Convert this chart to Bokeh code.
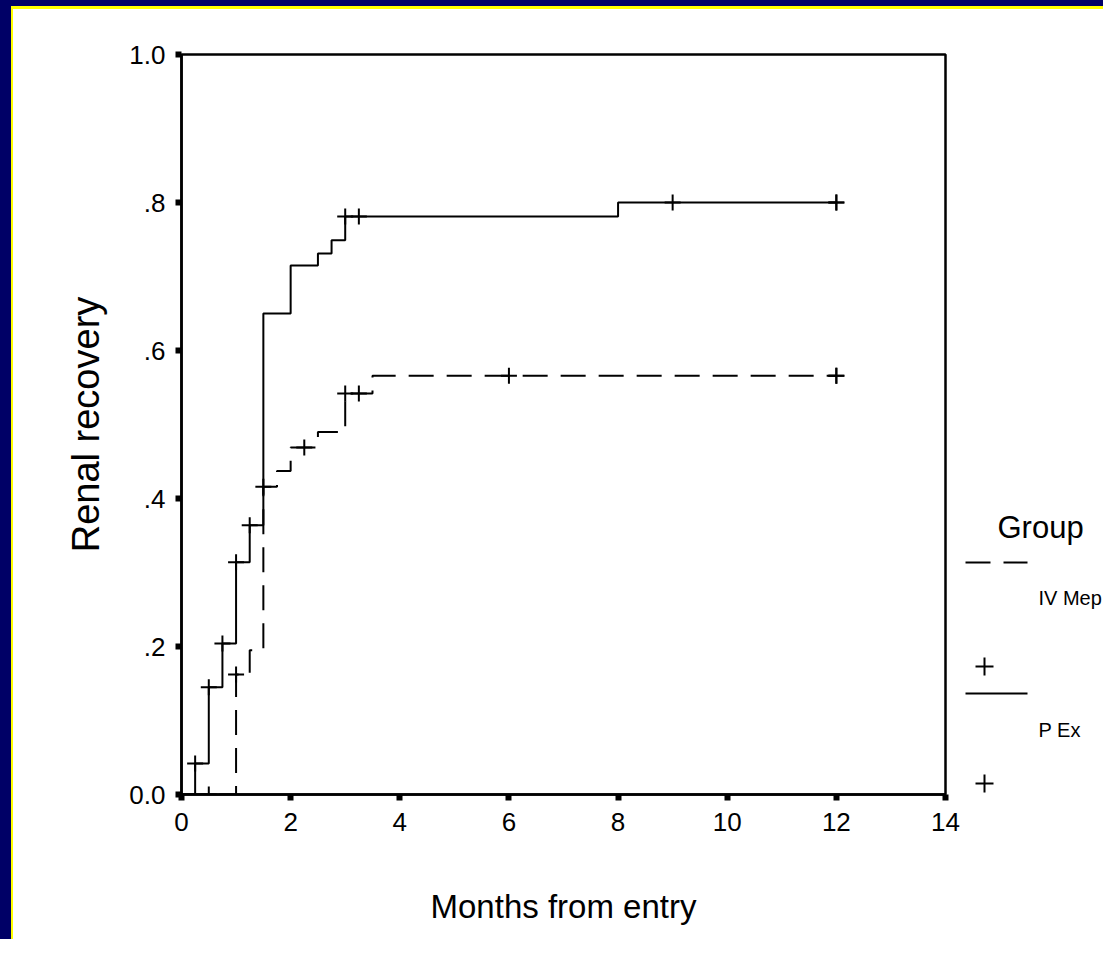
import numpy as np
from bokeh.plotting import figure
from bokeh.layouts import row
from bokeh.models import FixedTicker, Range1d
from bokeh.core.properties import value
from bokeh.embed import file_html
from bokeh.resources import INLINE

# ---- data ----
x_ticks = [0, 2, 4, 6, 8, 10, 12, 14]
y_ticks = [0.0, 0.2, 0.4, 0.6, 0.8, 1.0]
y_tick_labels = ["0.0", ".2", ".4", ".6", ".8", "1.0"]

# PEx (solid)
pex_t = [0, 0.25, 0.5, 0.75, 1.0, 1.25, 1.5, 2.0, 2.5, 2.75, 3.0, 8.0, 12.0]
pex_y = [0, 0.042, 0.145, 0.204, 0.314, 0.364, 0.65, 0.715, 0.731, 0.749, 0.781, 0.80, 0.80]
pex_censor = [0.25, 0.5, 0.75, 1.0, 1.25, 3.0, 3.25, 9.0, 12.0, 12.0]

# IV Mep (dashed)
ivm_t = [0, 1.0, 1.25, 1.5, 1.75, 2.0, 2.5, 3.0, 3.5, 12.0]
ivm_y = [0, 0.162, 0.195, 0.416, 0.437, 0.469, 0.49, 0.542, 0.566, 0.566]
ivm_censor = [0.5, 1.0, 1.5, 2.25, 3.0, 3.25, 6.0, 12.0, 12.0]

group_title = "Group"
group_names = ["IV Mep", "P Ex"]

FONT = "Liberation Sans"
NAVY = "#000066"
YELLOW = "#ffff00"

# page layout (pixels)
BORDER_L, BORDER_T = 11, 6          # navy slide border
YEL_L, YEL_T = 2, 3                 # yellow inner line
ORIGIN_X, ORIGIN_Y = BORDER_L + YEL_L, BORDER_T + YEL_T
FRAME_L, FRAME_R, FRAME_T, FRAME_B = 181, 945, 54, 794
MAIN_RIGHT = 960
TOTAL_W, TOTAL_H = 1103, 939
FIG_H = TOTAL_H - ORIGIN_Y
MAIN_W = MAIN_RIGHT - ORIGIN_X
LEG_W = TOTAL_W - MAIN_RIGHT
MB_TOP = FRAME_T - ORIGIN_Y
MB_BOTTOM = FIG_H - (FRAME_B - ORIGIN_Y)


def level_at(ts, ys, c):
    idx = np.searchsorted(np.asarray(ts), np.asarray(c), side="right") - 1
    return list(np.asarray(ys)[idx])


p = figure(width=MAIN_W, height=FIG_H, output_backend="svg", toolbar_location=None,
           x_range=Range1d(0, x_ticks[-1]), y_range=Range1d(0, y_ticks[-1]),
           min_border_left=FRAME_L - ORIGIN_X, min_border_right=MAIN_RIGHT - FRAME_R,
           min_border_top=MB_TOP, min_border_bottom=MB_BOTTOM,
           title_location=None)
p.background_fill_color = "white"
p.border_fill_color = "white"
p.outline_line_color = "black"
p.outline_line_width = 2.5
p.outline_line_alpha = 1.0
p.xgrid.visible = False
p.ygrid.visible = False

for ax in (p.xaxis[0], p.yaxis[0]):
    ax.axis_line_width = 2.5
    ax.axis_line_color = "black"
    ax.major_tick_line_width = 6
    ax.major_tick_line_color = "black"
    ax.major_tick_out = 6
    ax.major_tick_in = 0
    ax.minor_tick_line_color = None
    ax.major_label_text_font = FONT
    ax.major_label_text_font_size = "26px"
    ax.major_label_text_color = "black"
    ax.axis_label_text_font = FONT
    ax.axis_label_text_font_style = "normal"
    ax.axis_label_text_color = "black"

p.xaxis.ticker = FixedTicker(ticks=x_ticks)
p.yaxis.ticker = FixedTicker(ticks=y_ticks)
p.yaxis.major_label_overrides = {t: l for t, l in zip(y_ticks, y_tick_labels)}
p.xaxis.major_label_standoff = 12
p.yaxis.major_label_standoff = 10
p.xaxis.axis_label = "Months from entry"
p.yaxis.axis_label = "Renal recovery"
p.xaxis.axis_label_text_font_size = "33px"
p.yaxis.axis_label_text_font_size = "38px"
p.xaxis.axis_label_standoff = 54
p.yaxis.axis_label_standoff = 19

# curves
p.step(pex_t, pex_y, mode="after", line_color="black", line_width=2)
p.step(ivm_t, ivm_y, mode="after", line_color="black", line_width=2, line_dash="25 13")

# censor marks
p.scatter(pex_censor, level_at(pex_t, pex_y, pex_censor), marker="cross", size=16,
          line_color="black", line_width=2)
p.scatter(ivm_censor, level_at(ivm_t, ivm_y, ivm_censor), marker="cross", size=16,
          line_color="black", line_width=2)

# legend panel (separate figure sharing the y scale)
leg = figure(width=LEG_W, height=FIG_H, output_backend="svg", toolbar_location=None,
             x_range=Range1d(0, LEG_W), y_range=p.y_range,
             x_axis_location=None, y_axis_location=None, title_location=None,
             min_border_left=0, min_border_right=0,
             min_border_top=MB_TOP, min_border_bottom=MB_BOTTOM)
leg.outline_line_color = None
leg.background_fill_color = "white"
leg.border_fill_color = "white"
leg.grid.visible = False

leg.text(x=[37], y=[0.3608], text=[group_title], text_font=value(FONT),
         text_font_size="31px", text_color="black", text_baseline="alphabetic")
leg.line(x=[5, 67], y=[0.3135, 0.3135], line_color="black", line_width=2,
         line_dash="25 13")
leg.line(x=[5, 67], y=[0.1365, 0.1365], line_color="black", line_width=2)
leg.text(x=[78, 78], y=[0.2662, 0.0878], text=group_names, text_font=value(FONT),
         text_font_size="20px", text_color="black", text_baseline="alphabetic")
leg.scatter(x=[24, 24], y=[0.173, 0.0149], marker="cross", size=18,
            line_color="black", line_width=2)

layout = row(p, leg, styles={
    "border-left": f"{BORDER_L}px solid {NAVY}",
    "border-top": f"{BORDER_T}px solid {NAVY}",
    "padding-left": f"{YEL_L}px",
    "padding-top": f"{YEL_T}px",
    "background-color": "white",
    "box-shadow": f"inset {YEL_L}px {YEL_T}px 0 0 {YELLOW}",
})

open("out.html", "w").write(file_html(layout, INLINE))
